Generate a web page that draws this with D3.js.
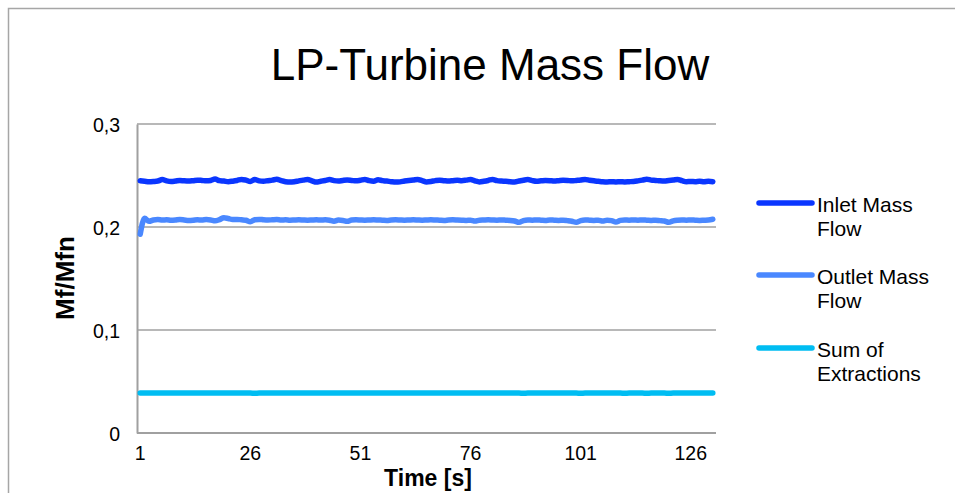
<!DOCTYPE html>
<html><head><meta charset="utf-8">
<script src="https://cdn.jsdelivr.net/npm/d3@7"></script>
<style>
html,body{margin:0;padding:0;background:#fff;}
svg{display:block;font-family:"Liberation Sans",Arial,Helvetica,sans-serif;}
</style></head>
<body>
<svg id="chart" width="955" height="493"></svg>
<script>
const title = "LP-Turbine Mass Flow";
const yTitle = "Mf/Mfn";
const xTitle = "Time [s]";
const seriesNames = ["Inlet Mass Flow", "Outlet Mass Flow", "Sum of Extractions"];
const legendLines = [["Inlet Mass", "Flow"], ["Outlet Mass", "Flow"], ["Sum of", "Extractions"]];
const seriesColors = ["#0a36ff", "#4a88ff", "#00bdf2"];
const yTicks = [0, 0.1, 0.2, 0.3];
const xTickLabels = [1, 26, 51, 76, 101, 126];
const times = Array.from({length: 131}, (_, i) => i + 1);

const inlet = [
0.2448,0.2444,0.2440,0.2442,0.2446,0.2460,0.2448,0.2442,0.2446,0.2452,
0.2448,0.2446,0.2450,0.2455,0.2452,0.2448,0.2452,0.2465,0.2450,0.2446,
0.2440,0.2445,0.2452,0.2462,0.2455,0.2442,0.2460,0.2448,0.2444,0.2450,
0.2455,0.2463,0.2450,0.2440,0.2436,0.2440,0.2448,0.2455,0.2462,0.2448,
0.2436,0.2444,0.2452,0.2460,0.2450,0.2446,0.2452,0.2456,0.2452,0.2448,
0.2454,0.2462,0.2450,0.2445,0.2458,0.2450,0.2446,0.2440,0.2436,0.2438,
0.2446,0.2452,0.2456,0.2462,0.2450,0.2438,0.2442,0.2450,0.2455,0.2450,
0.2446,0.2450,0.2454,0.2450,0.2455,0.2462,0.2448,0.2438,0.2444,0.2452,
0.2462,0.2450,0.2446,0.2444,0.2440,0.2438,0.2446,0.2454,0.2460,0.2450,
0.2444,0.2448,0.2452,0.2450,0.2446,0.2450,0.2454,0.2452,0.2448,0.2452,
0.2456,0.2462,0.2454,0.2448,0.2444,0.2440,0.2438,0.2440,0.2438,0.2440,
0.2438,0.2440,0.2442,0.2448,0.2455,0.2464,0.2455,0.2452,0.2448,0.2446,
0.2452,0.2456,0.2462,0.2450,0.2440,0.2442,0.2440,0.2444,0.2440,0.2443,
0.2440];

const outlet = [
0.1930,0.2085,0.2055,0.2068,0.2072,0.2068,0.2070,0.2066,0.2068,0.2072,
0.2068,0.2064,0.2066,0.2070,0.2068,0.2072,0.2068,0.2060,0.2072,0.2090,
0.2082,0.2072,0.2074,0.2070,0.2066,0.2052,0.2070,0.2074,0.2070,0.2068,
0.2070,0.2072,0.2068,0.2070,0.2066,0.2068,0.2070,0.2068,0.2066,0.2068,
0.2070,0.2068,0.2070,0.2066,0.2056,0.2068,0.2064,0.2055,0.2068,0.2070,
0.2068,0.2066,0.2068,0.2070,0.2068,0.2066,0.2064,0.2068,0.2070,0.2068,
0.2066,0.2068,0.2070,0.2068,0.2066,0.2068,0.2070,0.2068,0.2066,0.2064,
0.2068,0.2070,0.2068,0.2066,0.2064,0.2066,0.2058,0.2066,0.2068,0.2070,
0.2068,0.2066,0.2068,0.2066,0.2064,0.2058,0.2045,0.2062,0.2068,0.2066,
0.2068,0.2066,0.2064,0.2068,0.2066,0.2064,0.2066,0.2062,0.2056,0.2045,
0.2062,0.2068,0.2066,0.2064,0.2066,0.2058,0.2066,0.2062,0.2048,0.2064,
0.2068,0.2066,0.2068,0.2066,0.2068,0.2066,0.2064,0.2066,0.2062,0.2058,
0.2045,0.2060,0.2066,0.2068,0.2066,0.2068,0.2066,0.2064,0.2066,0.2068,
0.2075];

const extractions = [
0.0388,0.0388,0.0388,0.0388,0.0388,0.0388,0.0388,0.0388,0.0388,0.0388,
0.0388,0.0388,0.0388,0.0388,0.0388,0.0388,0.0388,0.0388,0.0388,0.0388,
0.0388,0.0388,0.0388,0.0388,0.0388,0.0388,0.0386,0.0388,0.0388,0.0388,
0.0388,0.0388,0.0388,0.0388,0.0388,0.0388,0.0388,0.0388,0.0388,0.0388,
0.0388,0.0388,0.0388,0.0388,0.0388,0.0388,0.0388,0.0388,0.0388,0.0388,
0.0388,0.0388,0.0388,0.0388,0.0388,0.0388,0.0388,0.0388,0.0388,0.0388,
0.0388,0.0388,0.0388,0.0388,0.0388,0.0388,0.0388,0.0388,0.0388,0.0388,
0.0388,0.0388,0.0388,0.0388,0.0388,0.0388,0.0388,0.0388,0.0388,0.0388,
0.0388,0.0388,0.0388,0.0388,0.0388,0.0388,0.0388,0.0386,0.0388,0.0388,
0.0388,0.0388,0.0388,0.0388,0.0388,0.0388,0.0388,0.0388,0.0388,0.0388,
0.0386,0.0388,0.0388,0.0388,0.0388,0.0388,0.0388,0.0388,0.0388,0.0388,
0.0386,0.0388,0.0388,0.0388,0.0388,0.0386,0.0388,0.0388,0.0388,0.0388,
0.0386,0.0388,0.0388,0.0388,0.0388,0.0388,0.0388,0.0388,0.0388,0.0388,
0.0388];

const seriesData = [inlet, outlet, extractions];

const svg = d3.select("#chart");
const plotL = 137, plotR = 716, plotT = 124, plotB = 433;

// outer chart border (extends beyond the picture on right and bottom)
svg.append("path")
  .attr("d", "M8.5,600 L8.5,8.5 L1000,8.5")
  .attr("fill", "none").attr("stroke", "#a6a6a6").attr("stroke-width", 1.5);

const x = d3.scaleBand().domain(times).range([plotL + 1, 715]).paddingInner(0).paddingOuter(0);
const cx = t => x(t) + x.bandwidth() / 2;
const y = d3.scaleLinear().domain([0, 0.3]).range([plotB, plotT]);

// gridlines
svg.append("g").selectAll("line").data(yTicks.filter(v => v > 0)).join("line")
  .attr("x1", plotL).attr("x2", plotR)
  .attr("y1", d => y(d)).attr("y2", d => y(d))
  .attr("stroke", "#a0a0a0").attr("stroke-width", 1.3);

// y axis
const fmt = d => d === 0 ? "0" : d3.format(".1f")(d).replace(".", ",");
const yAxis = svg.append("g").attr("transform", `translate(${plotL},0)`)
  .call(d3.axisLeft(y).tickValues(yTicks).tickFormat(fmt).tickSize(0).tickPadding(17));
yAxis.select(".domain").attr("stroke", "#a0a0a0").attr("stroke-width", 2);
yAxis.selectAll("text").attr("font-size", 19.5).attr("fill", "#000")
  .attr("font-family", "Liberation Sans, Arial, sans-serif").attr("dy", "0.4em");

// x axis
const xAxis = svg.append("g").attr("transform", `translate(0,${plotB})`)
  .call(d3.axisBottom(x).tickValues(xTickLabels).tickSize(0).tickPadding(13));
xAxis.select(".domain").attr("d", `M${plotL},0H${plotR}`).attr("stroke", "#a0a0a0").attr("stroke-width", 2);
xAxis.selectAll("text").attr("font-size", 19.5).attr("fill", "#000")
  .attr("font-family", "Liberation Sans, Arial, sans-serif");

// lines
const line = d3.line().x((d, i) => cx(times[i])).y(d => y(d)).curve(d3.curveMonotoneX);
svg.append("g").selectAll("path").data(seriesData).join("path")
  .attr("d", d => line(d))
  .attr("fill", "none")
  .attr("stroke", (d, i) => seriesColors[i])
  .attr("stroke-width", 5.5)
  .attr("stroke-linecap", "round")
  .attr("stroke-linejoin", "round");

// title
svg.append("text").attr("x", 490).attr("y", 80).attr("text-anchor", "middle")
  .attr("font-size", 44).attr("fill", "#000").text(title);

// axis titles
svg.append("text").attr("transform", "translate(74,278) rotate(-90)")
  .attr("text-anchor", "middle").attr("font-size", 26).attr("font-weight", "bold")
  .attr("fill", "#000").text(yTitle);
svg.append("text").attr("x", 428).attr("y", 486).attr("text-anchor", "middle")
  .attr("font-size", 23).attr("font-weight", "bold").attr("fill", "#000").text(xTitle);

// legend
const legendY = [203, 275, 348];
const lg = svg.append("g").selectAll("g").data(seriesNames).join("g")
  .attr("transform", (d, i) => `translate(0,${legendY[i]})`);
lg.append("line").attr("x1", 759).attr("x2", 812).attr("y1", 0).attr("y2", 0)
  .attr("stroke", (d, i) => seriesColors[i]).attr("stroke-width", 5.5).attr("stroke-linecap", "round");
lg.append("text").attr("x", 817).attr("y", 9).attr("font-size", 21).attr("fill", "#000")
  .each(function(d, i) {
    const t = d3.select(this);
    legendLines[i].forEach((s, j) => {
      t.append("tspan").attr("x", 817).attr("dy", j === 0 ? 0 : 24).text(s);
    });
  });
</script>
</body></html>
